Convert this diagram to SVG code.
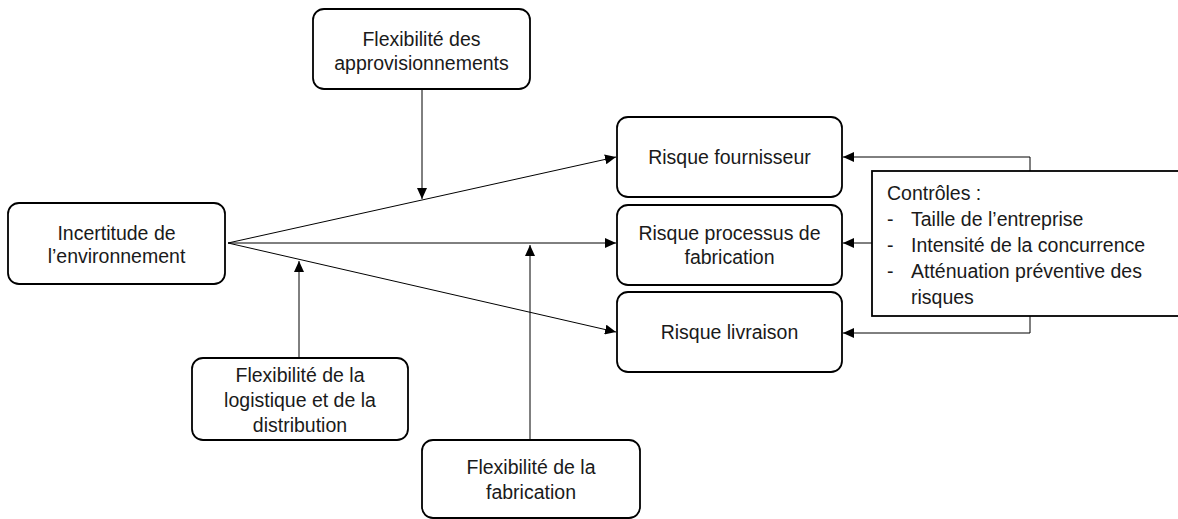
<svg xmlns="http://www.w3.org/2000/svg" width="1178" height="519" viewBox="0 0 1178 519">
<style>
.box{fill:#fff;stroke:#000;stroke-width:1.8}
.t{font-family:"Liberation Sans",Arial,sans-serif;font-size:19.5px;fill:#1a1a1a;text-anchor:middle}
.tl{font-family:"Liberation Sans",Arial,sans-serif;font-size:19.5px;fill:#1a1a1a}
.c{fill:none;stroke:#000;stroke-width:1}
</style>
<defs>
<marker id="ar" markerUnits="userSpaceOnUse" markerWidth="11" markerHeight="10" refX="11" refY="5" orient="auto">
<path d="M0,0 L11,5 L0,10 z" fill="#000"/>
</marker>
</defs>
<rect width="1178" height="519" fill="#fff"/>
<g id="connectors">
<line class="c" x1="228" y1="243" x2="616" y2="157" marker-end="url(#ar)"/>
<line class="c" x1="228" y1="243" x2="616" y2="243" marker-end="url(#ar)"/>
<line class="c" x1="228" y1="243" x2="616" y2="332" marker-end="url(#ar)"/>
<line class="c" x1="422" y1="89" x2="422" y2="199" marker-end="url(#ar)"/>
<line class="c" x1="299" y1="358" x2="299" y2="261" marker-end="url(#ar)"/>
<line class="c" x1="530" y1="440" x2="530" y2="245" marker-end="url(#ar)"/>
<polyline class="c" points="1030,171 1030,157 843,157" marker-end="url(#ar)"/>
<line class="c" x1="872" y1="243" x2="843" y2="243" marker-end="url(#ar)"/>
<polyline class="c" points="1030,316 1030,333 843,333" marker-end="url(#ar)"/>
</g>
<g id="appro">
<rect class="box" x="313" y="9" width="217" height="80" rx="11"/>
<text class="t" x="421.5" y="46">Flexibilité des</text>
<text class="t" x="421.5" y="70">approvisionnements</text>
</g>
<g id="incertitude">
<rect class="box" x="8" y="203" width="217" height="81" rx="11"/>
<text class="t" x="116.5" y="240">Incertitude de</text>
<text class="t" x="116.5" y="263">l’environnement</text>
</g>
<g id="fournisseur">
<rect class="box" x="617" y="117" width="225" height="80" rx="11"/>
<text class="t" x="729.5" y="164">Risque fournisseur</text>
</g>
<g id="processus">
<rect class="box" x="617" y="205" width="225" height="80" rx="11"/>
<text class="t" x="729.5" y="240">Risque processus de</text>
<text class="t" x="729.5" y="264">fabrication</text>
</g>
<g id="livraison">
<rect class="box" x="617" y="292" width="225" height="80" rx="11"/>
<text class="t" x="729.5" y="339">Risque livraison</text>
</g>
<g id="logistique">
<rect class="box" x="192" y="358" width="216" height="82" rx="11"/>
<text class="t" x="300" y="382">Flexibilité de la</text>
<text class="t" x="300" y="407">logistique et de la</text>
<text class="t" x="300" y="432">distribution</text>
</g>
<g id="fabrication">
<rect class="box" x="422" y="440" width="218" height="78" rx="11"/>
<text class="t" x="531" y="474">Flexibilité de la</text>
<text class="t" x="531" y="499">fabrication</text>
</g>
<g id="controles">
<rect class="box" x="872" y="171" width="310" height="145"/>
<text class="tl" x="887" y="200">Contrôles :</text>
<text class="tl" x="887" y="226">-</text>
<text class="tl" x="911" y="226">Taille de l’entreprise</text>
<text class="tl" x="887" y="252">-</text>
<text class="tl" x="911" y="252">Intensité de la concurrence</text>
<text class="tl" x="887" y="278">-</text>
<text class="tl" x="911" y="278">Atténuation préventive des</text>
<text class="tl" x="911" y="304">risques</text>
</g>
</svg>
